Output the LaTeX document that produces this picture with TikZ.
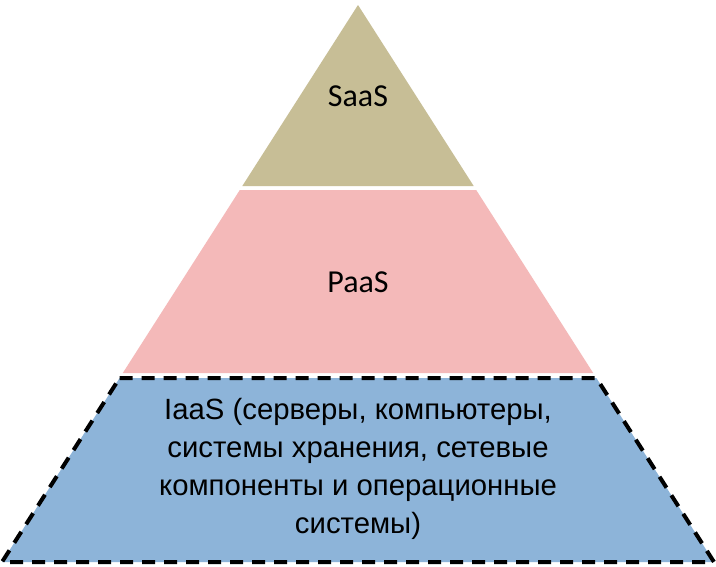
\documentclass[tikz,border=0pt]{standalone}
\usepackage{fontspec}
\setmainfont{Liberation Sans}
\newfontfamily\calib{Carlito}
\definecolor{saascol}{HTML}{C7BE96}
\definecolor{paascol}{HTML}{F4B9B9}
\definecolor{iaascol}{HTML}{8DB4D9}
\begin{document}
\begin{tikzpicture}[x=1pt,y=-1pt,
  layertext/.style={inner sep=0pt, align=center, text=black},
  calibtext/.style={layertext, font=\calib\fontsize{32}{38}\selectfont},
  ariatext/.style={layertext, font=\fontsize{29.3}{37.8}\selectfont}]
\useasboundingbox (0,0) rectangle (716,566);
\fill[white] (0,0) rectangle (716,566);
% SaaS
\fill[saascol] (358,5) -- (473.7,186) -- (242.3,186) -- cycle;
% PaaS
\fill[paascol] (239.8,190) -- (476.2,190) -- (593.2,373) -- (122.8,373) -- cycle;
% IaaS
\fill[iaascol] (119.6,378) -- (596.4,378) -- (714,562) -- (2,562) -- cycle;
\draw[black, line width=4pt, dash pattern=on 13pt off 9pt]
  (119.6,378) -- (596.4,378) -- (714,562) -- (2,562) -- cycle;
\node[calibtext] (saas) at (358,96) {SaaS};
\node[calibtext] (paas) at (358,282) {PaaS};
\node[ariatext] (iaas) at (358,469) {IaaS (серверы, компьютеры,\\системы хранения, сетевые\\компоненты и операционные\\системы)};
\end{tikzpicture}
\end{document}
